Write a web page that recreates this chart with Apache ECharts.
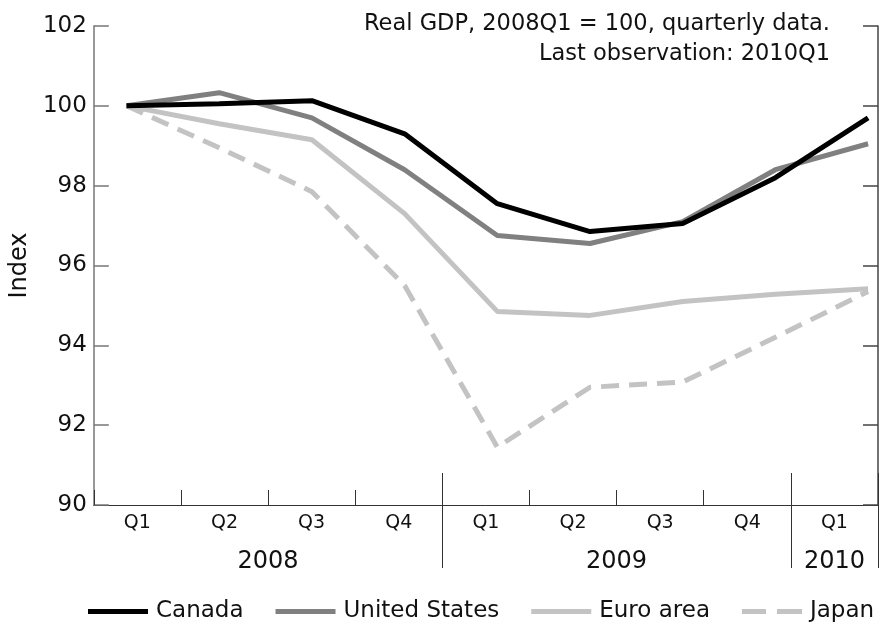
<!DOCTYPE html>
<html>
<head>
<meta charset="utf-8">
<script src="https://cdn.jsdelivr.net/npm/echarts@6/dist/echarts.min.js"></script>
<style>html,body{margin:0;padding:0;background:#fff}#c{width:881px;height:624px}</style>
</head>
<body>
<div id="c"></div>
<script>
const quarters = ['Q1','Q2','Q3','Q4','Q1','Q2','Q3','Q4','Q1'];
const years = ['2008','2009','2010'];
const canada = [100, 100.05, 100.13, 99.3, 97.55, 96.85, 97.05, 98.2, 99.7];
const unitedStates = [100, 100.33, 99.7, 98.4, 96.75, 96.55, 97.1, 98.4, 99.05];
const euroArea = [100, 99.55, 99.15, 97.3, 94.85, 94.75, 95.1, 95.28, 95.42];
const japan = [100, 98.95, 97.85, 95.5, 91.45, 92.95, 93.08, 94.2, 95.35];
const yTicks = [90, 92, 94, 96, 98, 100, 102];
const noteLines = ['Real GDP, 2008Q1 = 100, quarterly data.', 'Last observation: 2010Q1'];

const FONT = 'DejaVu Sans';
const pts = arr => arr.map((v, i) => [i, v]);
const yearPos = {2: years[0], 6: years[1], 8.5: years[2]};
const solidIcon = 'path://M0,0H60V5H0Z';
const dashIcon = 'path://M0,0H24V5H0Z M35,0H60V5H35Z';

const chart = echarts.init(document.getElementById('c'));
chart.setOption({
  animation: false,
  textStyle: {fontFamily: FONT},
  graphic: noteLines.map((t, i) => ({
    type: 'text', x: 830, y: 24 + i * 30,
    style: {text: t, font: '22.5px "' + FONT + '"', fill: '#111', align: 'right', verticalAlign: 'middle'}
  })),
  grid: {left: 89, right: 1, top: 26, bottom: 119, containLabel: false},
  legend: {
    left: 88, right: 0, top: 600, padding: 0, itemWidth: 60, itemHeight: 5, itemGap: 32,
    textStyle: {fontFamily: FONT, fontSize: 23, color: '#111', padding: [0, 0, 0, 3]},
    data: [
      {name: 'Canada', icon: solidIcon},
      {name: 'United States', icon: solidIcon},
      {name: 'Euro area', icon: solidIcon},
      {name: 'Japan', icon: dashIcon}
    ]
  },
  xAxis: [
    {type: 'value', min: -0.353, max: 8.107, show: false, axisLine: {onZero: false}},
    {type: 'category', data: quarters, boundaryGap: true, position: 'bottom',
     axisLine: {show: true, onZero: false, lineStyle: {color: '#333', width: 1}},
     axisTick: {show: true, inside: true, length: 15, interval: 0, lineStyle: {color: '#333'}},
     axisLabel: {interval: 0, fontSize: 19, color: '#111', margin: 9, fontFamily: FONT}},
    {type: 'category', data: quarters, boundaryGap: true, position: 'bottom',
     axisLine: {show: false, onZero: false},
     axisTick: {show: true, inside: true, length: 32, interval: (i) => i === 4 || i === 8, lineStyle: {color: '#333'}},
     axisLabel: {show: false}},
    {type: 'category', data: quarters, boundaryGap: true, position: 'bottom',
     axisLine: {show: false, onZero: false},
     axisTick: {show: true, inside: false, length: 63, interval: (i) => i === 4 || i === 8, lineStyle: {color: '#333'}},
     axisLabel: {show: false}},
    {type: 'value', min: 0, max: 9, interval: 0.5, position: 'bottom',
     axisLine: {show: false, onZero: false}, axisTick: {show: false}, splitLine: {show: false},
     axisLabel: {fontSize: 24, color: '#111', margin: 45, fontFamily: FONT,
       formatter: v => yearPos[v] || ''}}
  ],
  yAxis: [
    {type: 'value', min: yTicks[0], max: yTicks[yTicks.length-1], interval: 2, position: 'left',
     name: 'Index', nameLocation: 'middle', nameGap: 52, nameRotate: 90,
     nameTextStyle: {fontSize: 24, color: '#111', fontFamily: FONT},
     axisLine: {show: true, onZero: false, lineStyle: {color: '#777', width: 1.5}},
     axisTick: {show: true, inside: true, length: 15, lineStyle: {color: '#777', width: 1.5}},
     axisLabel: {fontSize: 23, color: '#111', margin: 7, fontFamily: FONT},
     splitLine: {show: false}},
    {type: 'value', min: yTicks[0], max: yTicks[yTicks.length-1], interval: 2, position: 'right',
     axisLine: {show: true, onZero: false, lineStyle: {color: '#444', width: 1.5}},
     axisTick: {show: true, inside: true, length: 15, lineStyle: {color: '#444', width: 1.5}},
     axisLabel: {show: false}, splitLine: {show: false}}
  ],
  series: [
    {name: 'Canada', type: 'line', data: pts(canada), xAxisIndex: 0, yAxisIndex: 0, symbol: 'none', z: 5,
     lineStyle: {color: '#000', width: 5}, itemStyle: {color: '#000'}},
    {name: 'United States', type: 'line', data: pts(unitedStates), xAxisIndex: 0, yAxisIndex: 0, symbol: 'none', z: 4,
     lineStyle: {color: '#808080', width: 5}, itemStyle: {color: '#808080'}},
    {name: 'Euro area', type: 'line', data: pts(euroArea), xAxisIndex: 0, yAxisIndex: 0, symbol: 'none', z: 3,
     lineStyle: {color: '#c3c3c3', width: 5}, itemStyle: {color: '#c3c3c3'}},
    {name: 'Japan', type: 'line', data: pts(japan), xAxisIndex: 0, yAxisIndex: 0, symbol: 'none', z: 2,
     lineStyle: {color: '#c3c3c3', width: 5, type: [18, 10]}, itemStyle: {color: '#c3c3c3'}}
  ]
});
</script>
</body>
</html>
